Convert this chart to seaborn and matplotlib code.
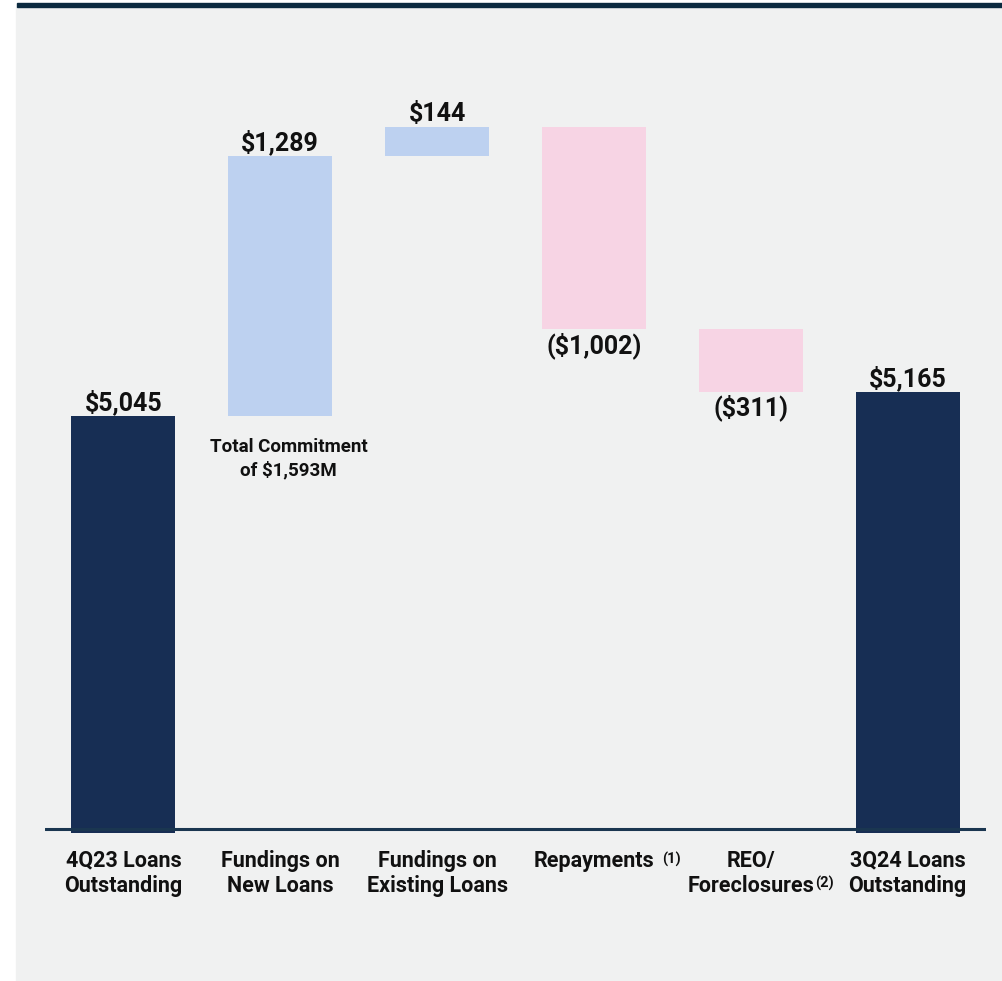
import matplotlib
matplotlib.use("Agg")
import matplotlib.pyplot as plt
from matplotlib.patches import Rectangle
import numpy as np
import pandas as pd
import seaborn as sns

# ---- data ($ millions) ----
categories = [
    "4Q23 Loans\nOutstanding",
    "Fundings on\nNew Loans",
    "Fundings on\nExisting Loans",
    "Repayments",
    "REO/\nForeclosures",
    "3Q24 Loans\nOutstanding",
]
footnotes = ["", "", "", "(1)", "(2)", ""]
opening_balance = 5045
changes = [1289, 144, -1002, -311]
closing_balance = 5165
total_commitment = 1593
kinds = ["total", "up", "up", "down", "down", "total"]

# ---- style ----
NAVY = "#172e54"
BLUE = "#bdd1f0"
PINK = "#f7d4e4"
PANEL = "#f0f1f1"
TOPBAR = "#0b2a3f"
AXISLINE = "#1a3650"
INK = "#111111"
kind_colors = {"total": NAVY, "up": BLUE, "down": PINK}

sns.set_theme(style="white")
plt.rcParams["font.family"] = ["Roboto", "DejaVu Sans"]

# ---- waterfall geometry from the values ----
values = [opening_balance] + changes + [closing_balance]
low, high = [0], [opening_balance]
level = opening_balance
for c in changes:
    new = level + c
    low.append(min(level, new))
    high.append(max(level, new))
    level = new
low.append(0)
high.append(closing_balance)

df = pd.DataFrame({
    "step": categories,
    "low": low,
    "span": np.subtract(high, low),
})

W, H, DPI = 1003, 981, 100
fig = plt.figure(figsize=(W / DPI, H / DPI), dpi=DPI, facecolor="white")

# grey panel and dark rule along the top
fig.patches.append(Rectangle((16 / W, 0), 1 - 16 / W, (H - 7) / H,
                             transform=fig.transFigure, color=PANEL, zorder=-2))
fig.patches.append(Rectangle((17 / W, (H - 7) / H), 1 - 17 / W, 4 / H,
                             transform=fig.transFigure, color=TOPBAR, zorder=-1))

ax = fig.add_axes([45 / W, (H - 833) / H, 941 / W, (833 - 21.8) / H])
ax.set_facecolor("none")

sns.barplot(data=df, x="step", y="span", bottom=df["low"].to_numpy(),
            width=0.663, color=NAVY, errorbar=None, linewidth=0, ax=ax)
for patch, k in zip(ax.patches, kinds):
    patch.set_facecolor(kind_colors[k])
    patch.set_edgecolor("none")

ax.set_xlim(-0.5, 5.5)
ax.set_ylim(2978, 7000)
ax.axhline(3000, color=AXISLINE, lw=2.2, zorder=3)

sns.despine(ax=ax, left=True, bottom=True)
ax.set_yticks([])
ax.set_xlabel("")
ax.set_ylabel("")
ax.set_xticks(range(len(categories)))
ax.set_xticklabels(categories, fontsize=15.5, fontweight="bold", color=INK,
                   linespacing=1.22)
ax.tick_params(axis="x", length=0, pad=12)

# value labels
for i, (v, k) in enumerate(zip(values, kinds)):
    if k == "down":
        ax.annotate(f"(${abs(v):,})", xy=(i, low[i]), xytext=(0, -17),
                    textcoords="offset points", ha="center", va="baseline",
                    fontsize=18, fontweight="bold", color=INK)
    else:
        ax.annotate(f"${v:,}", xy=(i, high[i]), xytext=(0, 4.3),
                    textcoords="offset points", ha="center", va="baseline",
                    fontsize=18, fontweight="bold", color=INK)

# footnote markers on the category labels
sup_offsets = {3: (49, -13.5), 4: (46.5, -31)}
for i, (dx, dy) in sup_offsets.items():
    ax.annotate(footnotes[i], xy=(i, 0), xycoords=("data", "axes fraction"),
                xytext=(dx, dy), textcoords="offset points", ha="left",
                va="top", fontsize=10.5, fontweight="bold", color=INK,
                annotation_clip=False)

# commitment note under the new-loan fundings bar
ax.annotate(f"Total Commitment\nof ${total_commitment:,}M", xy=(1, low[1]),
            xytext=(6, -16), textcoords="offset points", ha="center", va="top",
            multialignment="center", fontsize=13.5, fontweight="bold",
            color=INK, linespacing=1.3)

fig.savefig("out.png", dpi=DPI, facecolor=fig.get_facecolor())
